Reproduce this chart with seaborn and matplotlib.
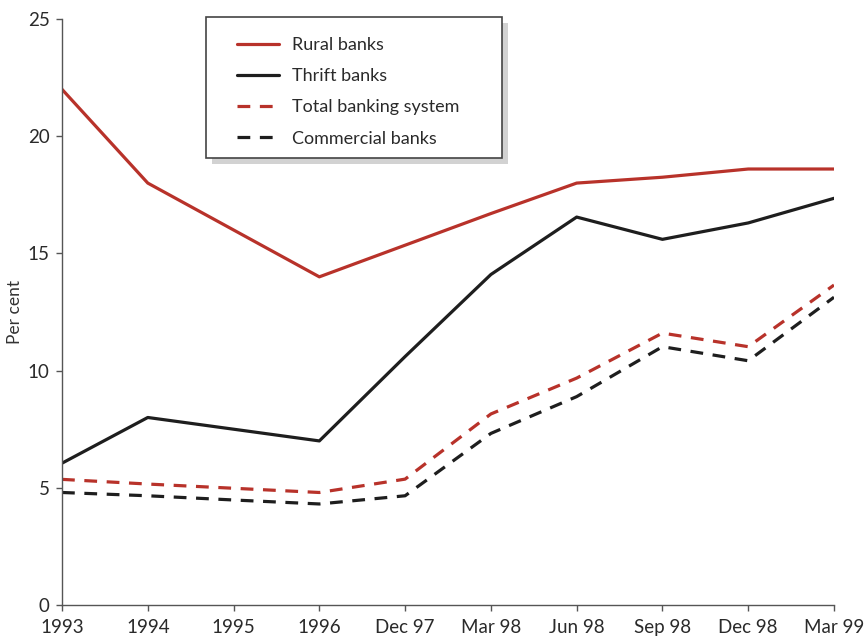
import matplotlib
matplotlib.use("Agg")
import matplotlib.pyplot as plt
from matplotlib.patches import Rectangle
import seaborn as sns
import pandas as pd

categories = ["1993", "1994", "1995", "1996", "Dec 97", "Mar 98",
              "Jun 98", "Sep 98", "Dec 98", "Mar 99"]
rural = [22.0, 18.0, 16.0, 14.0, 15.35, 16.7, 18.0, 18.25, 18.6, 18.6]
thrift = [6.05, 8.0, 7.5, 7.0, 10.6, 14.1, 16.55, 15.6, 16.3, 17.35]
total = [5.36, 5.16, 4.98, 4.8, 5.37, 8.15, 9.68, 11.6, 11.02, 13.65]
commercial = [4.8, 4.66, 4.48, 4.31, 4.66, 7.32, 8.89, 11.02, 10.42, 13.13]
series_names = ["Rural banks", "Thrift banks", "Total banking system", "Commercial banks"]
y_ticks = [0, 5, 10, 15, 20, 25]

RED = "#B8322A"
BLACK = "#1e1e1e"

frames = []
for name, vals in zip(series_names, [rural, thrift, total, commercial]):
    frames.append(pd.DataFrame({"period": categories, "value": vals, "series": name}))
df = pd.concat(frames, ignore_index=True)

sns.set_style("white")
plt.rcParams["font.family"] = ["Lato", "DejaVu Sans"]

fig = plt.figure(figsize=(8.68, 6.36), dpi=100)
ax = fig.add_axes([62 / 868, 1 - 605 / 636, 772 / 868, 586 / 636])

palette = {"Rural banks": RED, "Thrift banks": BLACK,
           "Total banking system": RED, "Commercial banks": BLACK}
dashes = {"Rural banks": "", "Thrift banks": "",
          "Total banking system": (4, 3), "Commercial banks": (4, 3)}

sns.lineplot(data=df, x="period", y="value", hue="series", style="series",
             hue_order=series_names, style_order=series_names,
             palette=palette, dashes=dashes, sort=False, linewidth=2.3,
             ax=ax, legend=True)

ax.set_xlim(0, len(categories) - 1)
ax.set_ylim(0, 25)
ax.set_yticks(y_ticks)
ax.set_xticks(range(len(categories)))
ax.set_xticklabels(categories)
ax.set_xlabel("")
ax.set_ylabel("Per cent", fontsize=12.5, color="#333", labelpad=3)

for side in ["top", "right"]:
    ax.spines[side].set_visible(False)
for side in ["left", "bottom"]:
    ax.spines[side].set_color("#555")
    ax.spines[side].set_linewidth(1.0)
ax.tick_params(axis="both", which="both", direction="out", length=4, width=1,
               color="#555", labelsize=13.5, labelcolor="#2a2a2a",
               left=True, bottom=True)
ax.tick_params(axis="y", pad=5)
ax.tick_params(axis="x", pad=6)

handles, labels = ax.get_legend_handles_labels()
ax.get_legend().remove()
leg = ax.legend(handles, labels, loc="upper left",
                bbox_to_anchor=(237 / 868, 1 - 37 / 636),
                bbox_transform=fig.transFigure, frameon=False,
                fontsize=13, borderpad=0, borderaxespad=0,
                handlelength=2.35, handletextpad=0.7, labelspacing=0.84)
leg.set_zorder(6)
for t in leg.get_texts():
    t.set_color("#2a2a2a")

# legend box with drop shadow
shadow = Rectangle((212 / 868, 1 - 164 / 636), 296 / 868, 141 / 636,
                   transform=fig.transFigure, facecolor="#d2d2d2",
                   edgecolor="none", zorder=4, clip_on=False)
box = Rectangle((206 / 868, 1 - 158 / 636), 296 / 868, 141 / 636,
                transform=fig.transFigure, facecolor="white",
                edgecolor="#444", linewidth=1.2, zorder=5, clip_on=False)
ax.add_patch(shadow)
ax.add_patch(box)

fig.savefig("out.png", dpi=100)
